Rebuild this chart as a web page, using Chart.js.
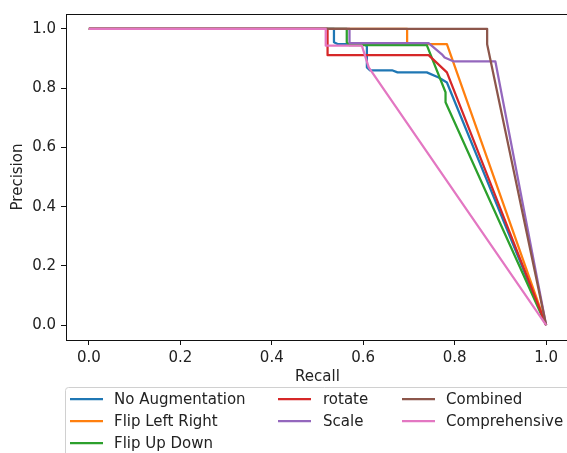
<!DOCTYPE html>
<html>
<head>
<meta charset="utf-8">
<script src="https://cdn.jsdelivr.net/npm/chart.js@4.4.0/dist/chart.umd.min.js"></script>
<style>
    html, body { margin: 0; padding: 0; background: #fff; overflow: hidden; }
    #wrap { width: 580px; height: 453px; }
</style>
</head>
<body>
<div id="wrap"><canvas id="prChart" width="580" height="453"></canvas></div>
<script>
/* ============================================================
   DATA
============================================================ */
const seriesNames = ["No Augmentation", "Flip Left Right", "Flip Up Down", "rotate", "Scale", "Combined", "Comprehensive"];
const seriesColors = ["#1f77b4", "#ff7f0e", "#2ca02c", "#d62728", "#9467bd", "#8c564b", "#e377c2"];

const noAugRecall    = [0, 0.536, 0.536, 0.545, 0.604, 0.608, 0.608, 0.615, 0.663, 0.675, 0.739, 0.765, 0.783, 1.0];
const noAugPrecision = [1, 1, 0.955, 0.948, 0.948, 0.94, 0.87, 0.86, 0.86, 0.853, 0.853, 0.836, 0.819, 0.0];

const flipLRRecall    = [0, 0.696, 0.696, 0.783, 1.0];
const flipLRPrecision = [1, 1, 0.948, 0.948, 0.0];

const flipUDRecall    = [0, 0.564, 0.564, 0.57, 0.739, 0.78, 0.78, 1.0];
const flipUDPrecision = [1, 1, 0.955, 0.945, 0.945, 0.786, 0.752, 0.0];

const rotateRecall    = [0, 0.522, 0.522, 0.743, 0.783, 1.0];
const rotatePrecision = [1, 1, 0.911, 0.911, 0.853, 0.0];

const scaleRecall    = [0, 0.570, 0.570, 0.743, 0.772, 0.778, 0.798, 0.889, 1.0];
const scalePrecision = [1, 1, 0.952, 0.952, 0.914, 0.903, 0.89, 0.89, 0.0];

const combinedRecall    = [0, 0.871, 0.871, 1.0];
const combinedPrecision = [1, 1, 0.948, 0.0];

const comprehensiveRecall    = [0, 0.518, 0.518, 0.597, 0.612, 1.0];
const comprehensivePrecision = [1, 1, 0.943, 0.943, 0.87, 0.0];

const tickValues = [0, 0.2, 0.4, 0.6, 0.8, 1.0];

/* ============================================================
   HELPERS
============================================================ */
const FONT = "'DejaVu Sans', 'Liberation Sans', sans-serif";
const FONT_SIZE = 15;
const TEXT_COLOR = "#222";
const LINE_W = 2.25;

function toPoints(recall, precision) {
    return recall.map((r, i) => ({ x: r, y: precision[i] }));
}

const seriesData = [
    toPoints(noAugRecall, noAugPrecision),
    toPoints(flipLRRecall, flipLRPrecision),
    toPoints(flipUDRecall, flipUDPrecision),
    toPoints(rotateRecall, rotatePrecision),
    toPoints(scaleRecall, scalePrecision),
    toPoints(combinedRecall, combinedPrecision),
    toPoints(comprehensiveRecall, comprehensivePrecision),
];

/* frame + legend box, matplotlib style */
const framePlugin = {
    id: "frame",
    afterDatasetsDraw(chart) {
        const { ctx, chartArea: a } = chart;
        ctx.save();
        ctx.strokeStyle = "#111";
        ctx.lineWidth = 1;
        ctx.strokeRect(Math.round(a.left) + 0.5, Math.round(a.top) + 0.5,
                       Math.round(a.right - a.left), Math.round(a.bottom - a.top));
        ctx.restore();
    }
};

const legendPlugin = {
    id: "mplLegend",
    afterDraw(chart) {
        const ctx = chart.ctx;
        const columns = [[0, 1, 2], [3, 4], [5, 6]];
        const lineX = [70, 278, 402];
        const textX = [114, 323, 446];
        const rowY = [399, 421, 443];

        ctx.save();
        ctx.fillStyle = "rgba(255,255,255,0.8)";
        ctx.strokeStyle = "#d0d0d0";
        ctx.lineWidth = 1;
        ctx.beginPath();
        ctx.roundRect(65.5, 387.5, 530, 90, 3);
        ctx.fill();
        ctx.stroke();

        ctx.font = FONT_SIZE + "px " + FONT;
        ctx.textBaseline = "middle";
        ctx.textAlign = "left";
        columns.forEach((col, c) => {
            col.forEach((idx, r) => {
                const ds = chart.data.datasets[idx];
                ctx.strokeStyle = ds.borderColor;
                ctx.lineWidth = LINE_W;
                ctx.beginPath();
                ctx.moveTo(lineX[c], rowY[r]);
                ctx.lineTo(lineX[c] + 33, rowY[r]);
                ctx.stroke();
                ctx.fillStyle = TEXT_COLOR;
                ctx.fillText(ds.label, textX[c], rowY[r] + 1);
            });
        });
        ctx.restore();
    }
};

/* ============================================================
   CHART
============================================================ */
const datasets = seriesNames.map((name, i) => ({
    label: name,
    data: seriesData[i],
    borderColor: seriesColors[i],
    backgroundColor: seriesColors[i],
    borderWidth: LINE_W,
    showLine: true,
    fill: false,
    tension: 0,
    pointRadius: 0,
    borderJoinStyle: "round",
    order: seriesNames.length - i,   // later series on top, like matplotlib
}));

function fixedTicks(scale) {
    scale.ticks = tickValues.map(v => ({ value: v }));
}

const tickFont = { family: FONT, size: FONT_SIZE };

new Chart(document.getElementById("prChart"), {
    type: "scatter",
    data: { datasets },
    options: {
        responsive: false,
        animation: false,
        layout: { padding: { left: 0, top: 13, right: 11, bottom: 63 } },
        plugins: {
            legend: { display: false },
            tooltip: { enabled: false },
        },
        scales: {
            x: {
                type: "linear",
                min: -0.05,
                max: 1.05,
                afterBuildTicks: fixedTicks,
                afterFit: s => { s.height = 50; },
                border: { display: false },
                grid: { display: true, drawOnChartArea: false, drawTicks: true, tickLength: 5, color: "#111" },
                ticks: {
                    padding: 4,
                    color: TEXT_COLOR,
                    font: tickFont,
                    maxRotation: 0,
                    callback: v => v.toFixed(1),
                },
                title: {
                    display: true,
                    text: "Recall",
                    color: TEXT_COLOR,
                    font: tickFont,
                    padding: { top: 0, bottom: 4 },
                },
            },
            y: {
                type: "linear",
                min: -0.05,
                max: 1.05,
                afterBuildTicks: fixedTicks,
                afterFit: s => { s.width = 66; },
                border: { display: false },
                grid: { display: true, drawOnChartArea: false, drawTicks: true, tickLength: 5, color: "#111" },
                ticks: {
                    padding: 5,
                    color: TEXT_COLOR,
                    font: tickFont,
                    callback: v => v.toFixed(1),
                },
                title: {
                    display: true,
                    text: "Precision",
                    color: TEXT_COLOR,
                    font: tickFont,
                    padding: { top: 9, bottom: 0 },
                },
            },
        },
    },
    plugins: [framePlugin, legendPlugin],
});
</script>
</body>
</html>
